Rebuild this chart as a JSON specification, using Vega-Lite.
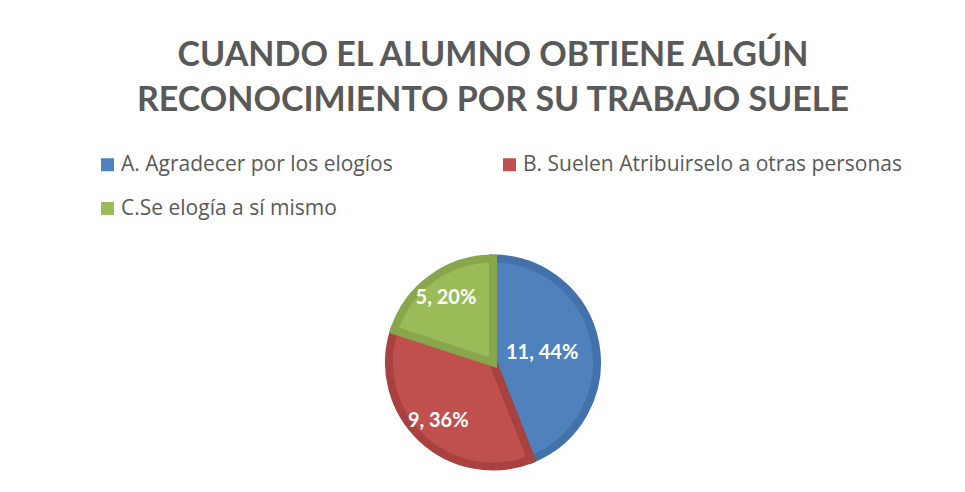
{
  "$schema": "https://vega.github.io/schema/vega-lite/v6.json",
  "width": 965,
  "height": 492,
  "autosize": {"type": "fit", "contains": "padding"},
  "padding": {"left": 97, "right": 76, "top": 39, "bottom": 0},
  "background": "white",
  "title": {
    "text": ["CUANDO EL ALUMNO OBTIENE ALGÚN", "RECONOCIMIENTO POR SU TRABAJO SUELE"],
    "font": "Lato",
    "fontSize": 34,
    "fontWeight": "bold",
    "color": "#595959",
    "lineHeight": 45,
    "anchor": "middle",
    "offset": 36
  },
  "data": {
    "values": [
      {"respuesta": "A. Agradecer por los elogíos", "alumnos": 11, "etiqueta": "11, 44%"},
      {"respuesta": "B. Suelen Atribuirselo a otras personas", "alumnos": 9, "etiqueta": "9, 36%"},
      {"respuesta": "C.Se elogía a sí mismo", "alumnos": 5, "etiqueta": "5, 20%"}
    ]
  },
  "encoding": {
    "theta": {"field": "alumnos", "type": "quantitative", "stack": true},
    "order": {"field": "respuesta", "type": "nominal", "sort": "ascending"}
  },
  "layer": [
    {
      "mark": {"type": "arc", "outerRadius": 104, "strokeWidth": 8},
      "encoding": {
        "color": {
          "field": "respuesta",
          "type": "nominal",
          "scale": {"range": ["#4F81BD", "#C0504D", "#9BBB59"]},
          "legend": {
            "orient": "top",
            "columns": 2,
            "title": null,
            "symbolType": "square",
            "symbolSize": 169,
            "symbolStrokeWidth": 0,
            "labelFont": "Open Sans",
            "labelFontSize": 21,
            "labelColor": "#595959",
            "labelLimit": 0,
            "labelOffset": 3,
            "columnPadding": 106,
            "rowPadding": 22,
            "offset": 14,
            "padding": 0
          }
        },
        "stroke": {
          "field": "respuesta",
          "type": "nominal",
          "scale": {"range": ["#4372AA", "#A9413E", "#88A64C"]},
          "legend": null
        }
      }
    },
    {
      "mark": {
        "type": "text",
        "radius": {"expr": "datum.alumnos > 10 ? 50 : 80"},
        "font": "Lato",
        "fontSize": 20,
        "fontWeight": "bold",
        "fill": "white"
      },
      "encoding": {
        "text": {"field": "etiqueta", "type": "nominal"}
      }
    }
  ],
  "config": {"view": {"stroke": null}}
}
